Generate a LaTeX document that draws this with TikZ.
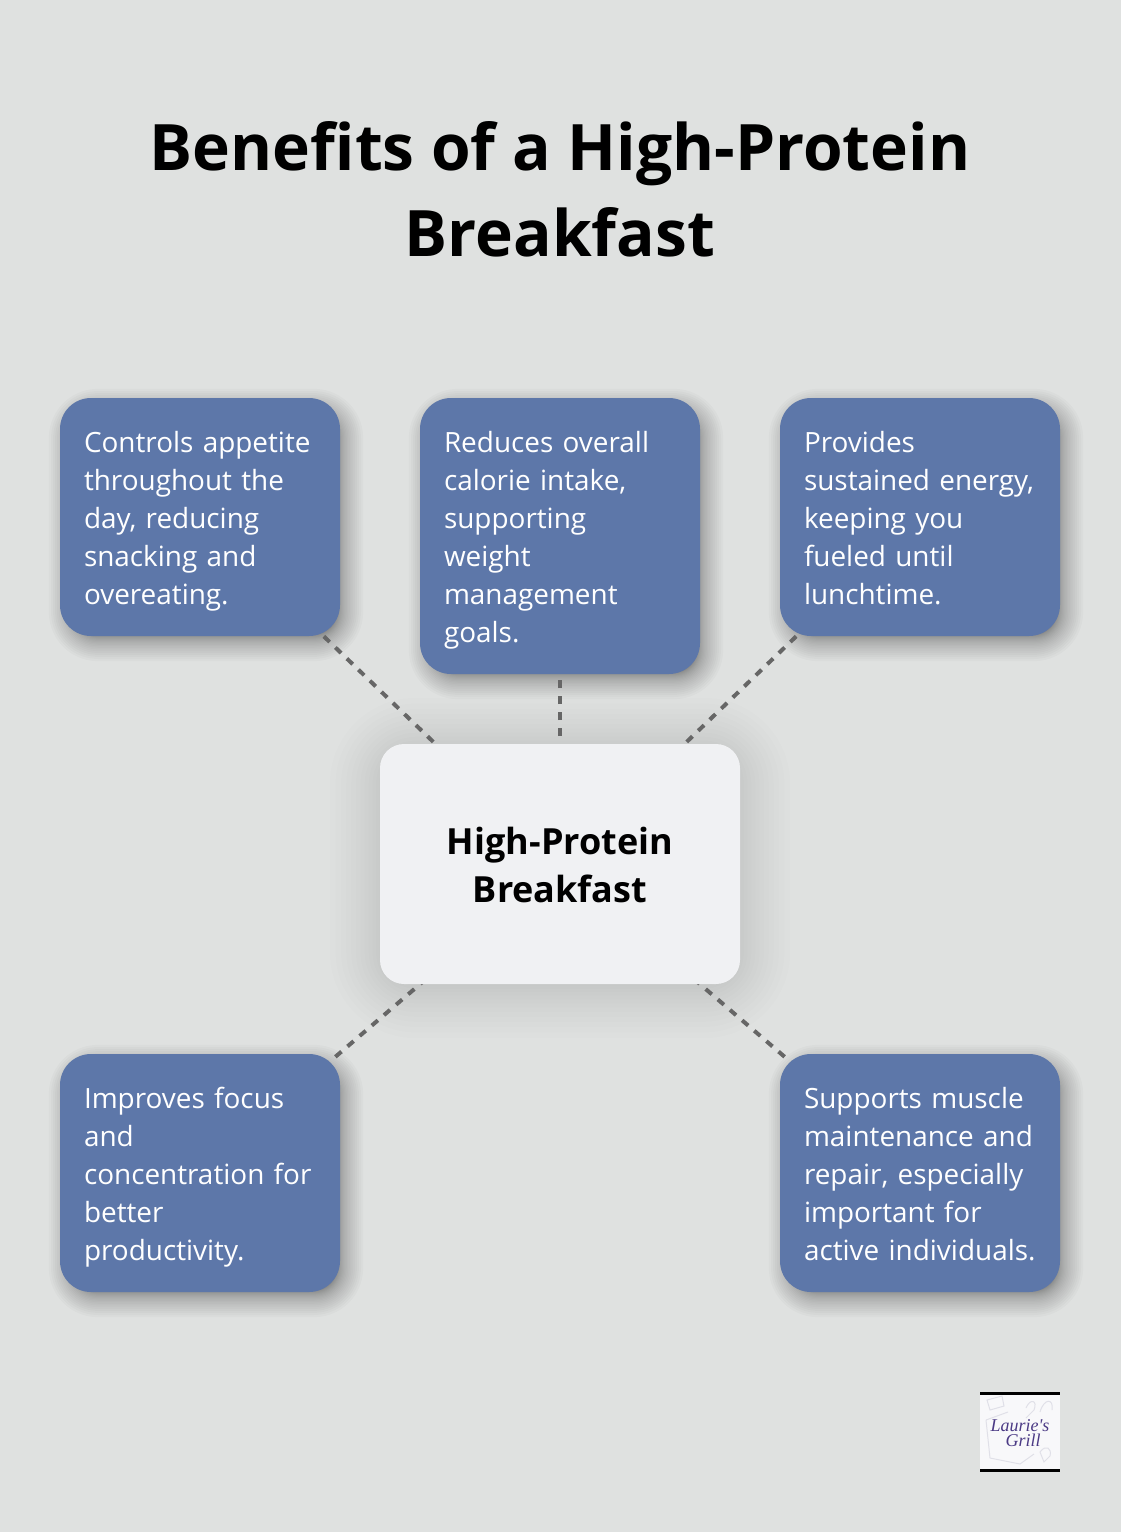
\documentclass[tikz,border=0pt]{standalone}
\usepackage{fontspec}
\setmainfont{Open Sans}
\newfontfamily\logofont{Liberation Serif}
\pgfdeclarelayer{pagelayer}
\pgfdeclarelayer{shadowlayer}
\pgfdeclarelayer{edgelayer}
\pgfsetlayers{pagelayer,shadowlayer,edgelayer,main}
\definecolor{pagebg}{HTML}{DFE1E0}
\definecolor{cardblue}{HTML}{5D77A9}
\definecolor{hubfill}{HTML}{F0F1F3}
\definecolor{linkgrey}{HTML}{666666}
\definecolor{logoink}{HTML}{4B3A85}
\definecolor{logosketch}{HTML}{E0E0E8}
\definecolor{logopaper}{HTML}{F8F8FA}
\newcommand{\firstln}{\rule{0pt}{30pt}}
\newcommand{\lastln}{\rule[-8pt]{0pt}{8pt}}
\tikzset{
  x=1pt,y=-1pt,
  card/.style={fill=cardblue,text=white,rounded corners=31pt,minimum width=280pt,text width=232pt,inner xsep=24pt,inner ysep=0pt,align=left,font=\fontsize{27.9}{38}\selectfont},
  hub/.style={fill=hubfill,text=black,rounded corners=24pt,minimum width=360pt,minimum height=240pt,align=center,font=\fontsize{36}{48}\selectfont\bfseries},
  titletext/.style={text=black,align=center,font=\fontsize{64.05}{86}\selectfont\bfseries},
  link/.style={draw=linkgrey,line width=4pt,dash pattern=on 8pt off 8pt},
}
% soft shadow behind a named node: #1 node, #2 x shift, #3 y shift, #4 inset, #5 corner radius, #6 reach, #7 opacity per step
\newcommand{\softshadow}[7]{%
  \foreach \r in {1,...,24}{%
    \draw[black,line width={2*(\r/24)*(\r/24)*#6*1pt},draw opacity=#7,rounded corners=#5pt,line join=round,transform canvas={shift={(#2pt,-#3pt)}}]
      ([xshift=#4pt,yshift=#4pt]#1.south west) rectangle ([xshift=-#4pt,yshift=-#4pt]#1.north east);
  }%
}
\begin{document}
\begin{tikzpicture}
\useasboundingbox (0,0) rectangle (1120,1532);
\begin{pgfonlayer}{pagelayer}
\fill[pagebg] (-20,-20) rectangle (1140,1552);
\end{pgfonlayer}
\node[titletext] (title) at (560,189) {Benefits of a High-Protein\\Breakfast};
\node[card,minimum height=238pt] (a) at (200,517) {\firstln Controls appetite\\throughout the\\day, reducing\\snacking and\\overeating.\lastln};
\node[card,minimum height=276pt] (b) at (560,536) {\firstln Reduces overall\\calorie intake,\\supporting\\weight\\management\\goals.\lastln};
\node[card,minimum height=238pt] (c) at (920,517) {\firstln Provides\\sustained energy,\\keeping you\\fueled until\\lunchtime.\lastln};
\node[hub] (h) at (560,864) {\rule{0pt}{36pt}High-Protein\\Breakfast\rule[-7pt]{0pt}{7pt}};
\node[card,minimum height=238pt] (d) at (200,1173) {\firstln Improves focus\\and\\concentration for\\better\\productivity.\lastln};
\node[card,minimum height=238pt] (e) at (920,1173) {\firstln Supports muscle\\maintenance and\\repair, especially\\important for\\\mbox{active individuals.}\lastln};
\begin{pgfonlayer}{edgelayer}
\draw[link] (h.center) -- (a.center);
\draw[link] (h.center) -- (b.center);
\draw[link] (h.center) -- (c.center);
\draw[link] (h.center) -- (d.center);
\draw[link] (h.center) -- (e.center);
\end{pgfonlayer}
\begin{pgfonlayer}{shadowlayer}
\softshadow{a}{6}{8}{10}{22}{27}{0.019}
\softshadow{b}{6}{8}{10}{22}{27}{0.019}
\softshadow{c}{6}{8}{10}{22}{27}{0.019}
\softshadow{d}{6}{8}{10}{22}{27}{0.019}
\softshadow{e}{6}{8}{10}{22}{27}{0.019}
\softshadow{h}{0}{4}{20}{16}{70}{0.0065}
\end{pgfonlayer}
% logo
\node[fill=logopaper,minimum width=80pt,minimum height=80pt,inner sep=0pt] (logo) at (1020,1432) {};
\draw[logosketch,line width=1pt] (987,1400) -- (1002,1396) -- (1004,1406) -- (990,1410) -- cycle
  (986,1420) -- (1008,1412) (986,1420) -- (990,1458) -- (1020,1464) -- (1034,1454)
  (1026,1408) .. controls (1030,1398) and (1038,1400) .. (1034,1410) -- (1026,1418)
  (1040,1412) .. controls (1044,1398) and (1054,1398) .. (1052,1410)
  (1040,1452) .. controls (1046,1444) and (1052,1448) .. (1050,1456) -- (1044,1462) -- cycle;
\fill[black] (logo.north west) rectangle ([yshift=-3pt]logo.north east);
\fill[black] ([yshift=3pt]logo.south west) rectangle (logo.south east);
\node[text=logoink,inner sep=0pt,font=\logofont\itshape\fontsize{18}{15}\selectfont,align=center] (logotext) at (1020,1433) {Laurie's\\\hspace*{6pt}Grill};
\end{tikzpicture}
\end{document}
